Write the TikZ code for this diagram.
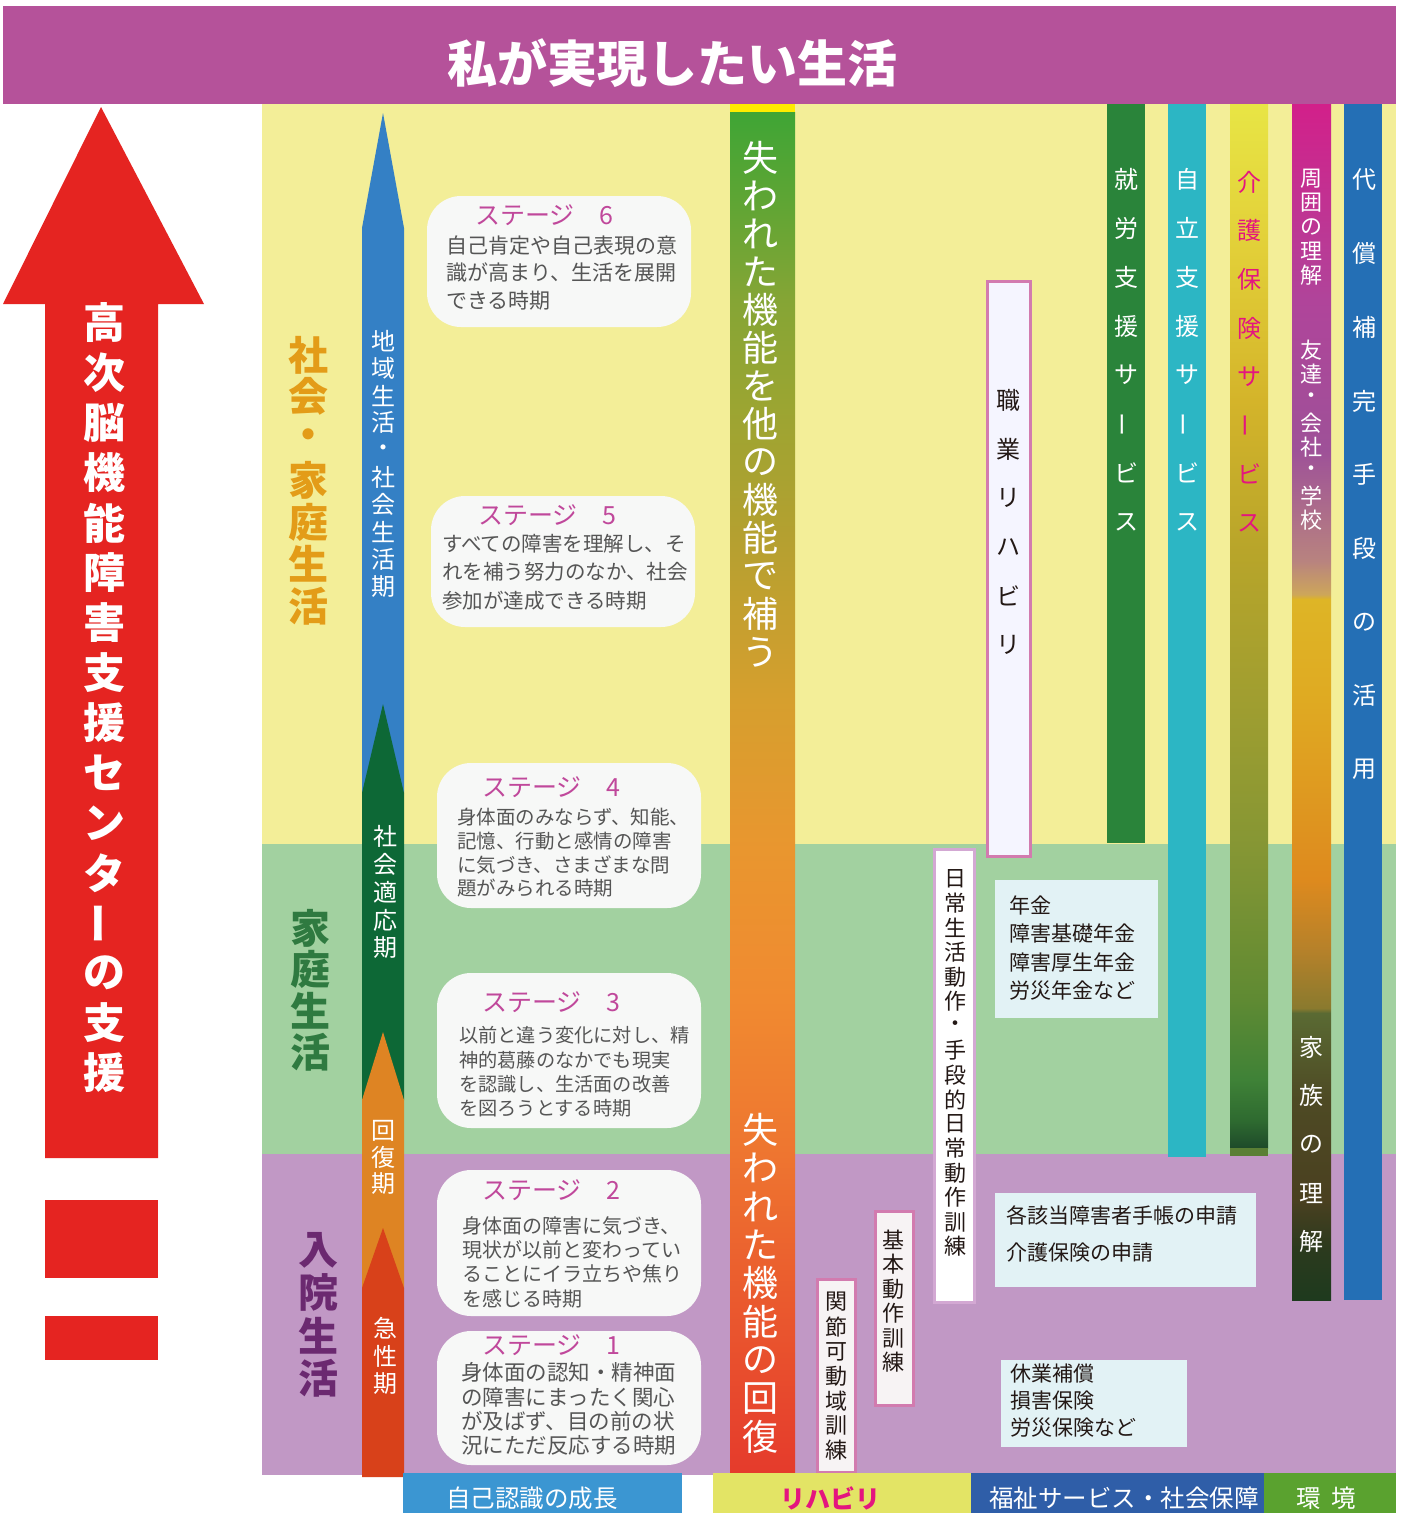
\documentclass[tikz,border=0pt]{standalone}
\usepackage{fontspec}
\usepackage{graphicx}
\setmainfont{Noto Sans CJK JP}

\definecolor{headpurple}{HTML}{B5529A}
\definecolor{bandyellow}{HTML}{F3EE98}
\definecolor{bandgreen}{HTML}{A2D1A0}
\definecolor{bandpurple}{HTML}{C198C5}
\definecolor{supportred}{HTML}{E52421}
\definecolor{shakaiorange}{HTML}{E39C18}
\definecolor{kateigreen}{HTML}{2F7A40}
\definecolor{nyuinpurple}{HTML}{6B2970}
\definecolor{phaseblue}{HTML}{3480C5}
\definecolor{phasegreen}{HTML}{0D6836}
\definecolor{phaseorange}{HTML}{DE8423}
\definecolor{phasered}{HTML}{D8411A}
\definecolor{stagefill}{HTML}{F7F8F7}
\definecolor{stagetitle}{HTML}{C0489B}
\definecolor{stagetext}{HTML}{555555}
\definecolor{inkblack}{HTML}{231815}
\definecolor{boxpink}{HTML}{D27BAF}
\definecolor{boxlilac}{HTML}{D3A8D3}
\definecolor{trainfill}{HTML}{F7F3F4}
\definecolor{infofill}{HTML}{E2F2F5}
\definecolor{shurogreen}{HTML}{2A843A}
\definecolor{jiritsuteal}{HTML}{2CB6C4}
\definecolor{kaigomagenta}{HTML}{E4157F}
\definecolor{kaigostrip}{HTML}{5A7F35}
\definecolor{daishoblue}{HTML}{246FB5}
\definecolor{jikoblue}{HTML}{3B96D2}
\definecolor{rehayellow}{HTML}{E3E465}
\definecolor{fukushiblue}{HTML}{2F5EA8}
\definecolor{kankyogreen}{HTML}{5AA22F}
\definecolor{topyellow}{HTML}{FFEC00}

% stops of the shaded bars, bottom to top
\definecolor{lostA}{HTML}{E53B2C}
\definecolor{lostB}{HTML}{EA5A2E}
\definecolor{lostC}{HTML}{EE7630}
\definecolor{lostD}{HTML}{F08A30}
\definecolor{lostE}{HTML}{E9962F}
\definecolor{lostF}{HTML}{D69F2E}
\definecolor{lostG}{HTML}{B5A030}
\definecolor{lostH}{HTML}{9AA532}
\definecolor{lostI}{HTML}{85A535}
\definecolor{lostJ}{HTML}{5EA534}
\definecolor{lostK}{HTML}{3FA535}

\definecolor{kaigoA}{HTML}{1E4A2A}
\definecolor{kaigoB}{HTML}{2E6A30}
\definecolor{kaigoC}{HTML}{3F8237}
\definecolor{kaigoD}{HTML}{5F8A33}
\definecolor{kaigoE}{HTML}{859634}
\definecolor{kaigoF}{HTML}{A09E30}
\definecolor{kaigoG}{HTML}{B8A52A}
\definecolor{kaigoH}{HTML}{D4B42A}
\definecolor{kaigoI}{HTML}{E2CF38}
\definecolor{kaigoJ}{HTML}{E8E545}

\definecolor{shuiA}{HTML}{1E3A1E}
\definecolor{shuiB}{HTML}{2B3A1E}
\definecolor{shuiC}{HTML}{4A4020}
\definecolor{shuiD}{HTML}{4E4A24}
\definecolor{shuiE}{HTML}{5A6A33}
\definecolor{shuiF}{HTML}{8A7A2E}
\definecolor{shuiG}{HTML}{B5812A}
\definecolor{shuiH}{HTML}{DE8A1E}
\definecolor{shuiI}{HTML}{DFAA22}
\definecolor{shuiJ}{HTML}{DEB526}
\definecolor{shuiK}{HTML}{CDA65A}
\definecolor{shuiL}{HTML}{B8837F}
\definecolor{shuiM}{HTML}{9E5198}
\definecolor{shuiN}{HTML}{B0449A}
\definecolor{shuiO}{HTML}{D2208A}

\pgfdeclareverticalshading{lostbar}{100bp}{color(0bp)=(lostA); color(25bp)=(lostA);
  color(31.4bp)=(lostB); color(36.9bp)=(lostC); color(42.4bp)=(lostD); color(47.9bp)=(lostE);
  color(53.4bp)=(lostF); color(59.3bp)=(lostG); color(64.4bp)=(lostH); color(68.1bp)=(lostI);
  color(71.8bp)=(lostJ); color(75bp)=(lostK); color(100bp)=(lostK)}
\pgfdeclareverticalshading{kaigobar}{100bp}{color(0bp)=(kaigoA); color(25bp)=(kaigoA);
  color(26.3bp)=(kaigoB); color(28.3bp)=(kaigoC); color(32.1bp)=(kaigoD); color(39.3bp)=(kaigoE);
  color(46.5bp)=(kaigoF); color(53.6bp)=(kaigoG); color(60.8bp)=(kaigoH); color(68bp)=(kaigoI);
  color(75bp)=(kaigoJ); color(100bp)=(kaigoJ)}
\pgfdeclareverticalshading{shuibar}{100bp}{color(0bp)=(shuiA); color(25bp)=(shuiA);
  color(27.1bp)=(shuiB); color(29.2bp)=(shuiC); color(33.4bp)=(shuiD); color(37bp)=(shuiE);
  color(37.2bp)=(shuiF); color(39.6bp)=(shuiG); color(42.6bp)=(shuiH); color(50.1bp)=(shuiI);
  color(54.3bp)=(shuiJ); color(54.5bp)=(shuiK); color(55.9bp)=(shuiL); color(60.5bp)=(shuiM);
  color(66.8bp)=(shuiN); color(75bp)=(shuiO); color(100bp)=(shuiO)}

\def\colpitch{49}
\def\widepitch{73.7}
\newcommand\vbar{\rotatebox[origin=c]{90}{ー}}

\begin{document}
\begin{tikzpicture}[x=1pt,y=-1pt]
    \tikzstyle{arrow char}=[inner sep=0pt, text=white, font=\fontsize{42}{42}\selectfont\bfseries]
    \tikzstyle{life char}=[inner sep=0pt, font=\fontsize{40}{40}\selectfont\bfseries]
    \tikzstyle{phase char}=[inner sep=0pt, text=white, font=\fontsize{24}{24}\selectfont]
    \tikzstyle{bar char}=[inner sep=0pt, text=white, font=\fontsize{36}{36}\selectfont]
    \tikzstyle{col char}=[inner sep=0pt, text=white, font=\fontsize{24}{24}\selectfont]
    \tikzstyle{box char}=[inner sep=0pt, text=inkblack, font=\fontsize{22}{22}\selectfont]
    \tikzstyle{stage box}=[fill=stagefill, rounded corners=34pt, inner sep=0pt]
    \tikzstyle{stage title}=[inner sep=0pt, anchor=west, text=stagetitle, font=\fontsize{25}{25}\selectfont]
    \tikzstyle{stage text}=[inner sep=0pt, anchor=west, align=left, text=stagetext, font=\fontsize{20}{24.3}\selectfont]
    \tikzstyle{info box}=[fill=infofill, inner sep=0pt]
    \tikzstyle{info text}=[inner sep=0pt, anchor=west, align=left, text=inkblack]
    \tikzstyle{train box}=[draw=boxpink, line width=3pt, fill=trainfill]
    \tikzstyle{label box}=[inner sep=0pt, minimum height=50]
    \tikzstyle{label text}=[inner sep=0pt, text=white, font=\fontsize{24.5}{24.5}\selectfont]

    \useasboundingbox (0,0) rectangle (1402,1513);
    \fill[white] (0,0) rectangle (1402,1513);

    % Draw the three life bands and the header
    \fill[bandyellow] (262,104) rectangle (1396,844);
    \fill[bandgreen] (262,844) rectangle (1396,1154);
    \fill[bandpurple] (262,1154) rectangle (1396,1475);
    \fill[headpurple] (3,6) rectangle (1396,104);
    \node[text=white, font=\fontsize{50}{50}\selectfont\bfseries] (title) at (672,63) {私が実現したい生活};

    % Draw the red support arrow
    \fill[supportred] (45,1158) -- (45,304) -- (3,304) -- (101,107) -- (204,304)
        -- (158,304) -- (158,1158) -- cycle;
    \fill[supportred] (45,1200) rectangle (158,1278);
    \fill[supportred] (45,1316) rectangle (158,1360);
    \foreach \ch [count=\i] in {高,次,脳,機,能,障,害,支,援,セ,ン,タ,\vbar,の,支,援}
        \node[arrow char] (R-\i) at (104,{323+50*(\i-1)}) {\ch};

    % Annotate the life bands
    \foreach \ch [count=\i] in {社,会,・,家,庭,生,活}
        \node[life char, text=shakaiorange] (L1-\i) at (308,{355+41.8*(\i-1)}) {\ch};
    \foreach \ch [count=\i] in {家,庭,生,活}
        \node[life char, text=kateigreen] (L2-\i) at (310,{928+41.5*(\i-1)}) {\ch};
    \foreach \ch [count=\i] in {入,院,生,活}
        \node[life char, text=nyuinpurple] (L3-\i) at (318,{1250+42.7*(\i-1)}) {\ch};

    % Draw the phase arrows
    \fill[phaseblue] (362,793) -- (362,228) -- (383,113) -- (404,228) -- (404,793) -- cycle;
    \fill[phasegreen] (362,1100) -- (362,793) -- (383,704) -- (404,793) -- (404,1100) -- cycle;
    \fill[phaseorange] (362,1288) -- (362,1100) -- (383,1032) -- (404,1100) -- (404,1288) -- cycle;
    \fill[phasered] (362,1477) -- (362,1288) -- (383,1228) -- (404,1288) -- (404,1477) -- cycle;
    \foreach \ch [count=\i] in {地,域,生,活,・,社,会,生,活,期}
        \node[phase char] (P1-\i) at (383,{341+27.3*(\i-1)}) {\ch};
    \foreach \ch [count=\i] in {社,会,適,応,期}
        \node[phase char] (P2-\i) at (385,{836+28*(\i-1)}) {\ch};
    \foreach \ch [count=\i] in {回,復,期}
        \node[phase char] (P3-\i) at (383,{1131+26.5*(\i-1)}) {\ch};
    \foreach \ch [count=\i] in {急,性,期}
        \node[phase char] (P4-\i) at (385,{1328+28*(\i-1)}) {\ch};

    % Draw the stage boxes
    \foreach \name / \x / \y / \h in {6/559/261.5/131, 5/563/561.5/131, 4/569/835.5/145,
                                     3/569/1050.5/155, 2/569/1243/146, 1/569/1398/134}
        \node[stage box, minimum width=264, minimum height=\h] (S\name) at (\x,\y) {};
    \foreach \name / \x / \y in {6/475/215, 5/478/515, 4/482/787, 3/482/1002, 2/482/1190, 1/482/1345}
        \node[stage title] (T\name) at (\x,\y) {ステージ　\name};
    \node[stage text, font=\fontsize{21}{27.5}\selectfont] (X6) at (446,273)
        {自己肯定や自己表現の意\\識が高まり、生活を展開\\できる時期};
    \node[stage text, font=\fontsize{20.5}{28.5}\selectfont] (X5) at (442,572)
        {すべての障害を理解し、そ\\れを補う努力のなか、社会\\参加が達成できる時期};
    \node[stage text, font=\fontsize{19.5}{23.7}\selectfont] (X4) at (457,853)
        {身体面のみならず、知能、\\記憶、行動と感情の障害\\に気づき、さまざまな問\\題がみられる時期};
    \node[stage text, font=\fontsize{19.2}{24.3}\selectfont] (X3) at (459,1072)
        {以前と違う変化に対し、精\\神的葛藤のなかでも現実\\を認識し、生活面の改善\\を図ろうとする時期};
    \node[stage text] (X2) at (462,1262)
        {身体面の障害に気づき、\\現状が以前と変わってい\\ることにイラ立ちや焦り\\を感じる時期};
    \node[stage text, font=\fontsize{21.5}{24.3}\selectfont] (X1) at (461,1409)
        {身体面の認知・精神面\\の障害にまったく関心\\が及ばず、目の前の状\\況にただ反応する時期};

    % Draw the rehabilitation bar
    \shade[shading=lostbar] (730,112) rectangle (795,1473);
    \fill[topyellow] (730,104) rectangle (795,112);
    \foreach \ch [count=\i] in {失,わ,れ,た,機,能,を,他,の,機,能,で,補,う}
        \node[bar char] (U-\i) at (760,{158+38*(\i-1)}) {\ch};
    \foreach \ch [count=\i] in {失,わ,れ,た,機,能,の,回,復}
        \node[bar char] (V-\i) at (760,{1130+38.3*(\i-1)}) {\ch};

    % Draw the training boxes
    \draw[train box, fill=white!96!blue] (987.5,281) rectangle (1030,856);
    \foreach \ch [count=\i] in {職,業,リ,ハ,ビ,リ}
        \node[box char, font=\fontsize{24}{24}\selectfont] (J-\i) at (1008,{400+\colpitch*(\i-1)}) {\ch};
    \draw[train box, draw=boxlilac, fill=white] (934.5,849.5) rectangle (974.5,1302.5);
    \foreach \ch [count=\i] in {日,常,生,活,動,作,・,手,段,的,日,常,動,作,訓,練}
        \node[box char] (D-\i) at (955,{879+24.5*(\i-1)}) {\ch};
    \draw[train box] (875,1211) rectangle (913,1405);
    \foreach \ch [count=\i] in {基,本,動,作,訓,練}
        \node[box char] (K-\i) at (893,{1240+24.5*(\i-1)}) {\ch};
    \draw[train box] (817,1279) rectangle (855,1472);
    \foreach \ch [count=\i] in {関,節,可,動,域,訓,練}
        \node[box char] (M-\i) at (836,{1302+24.7*(\i-1)}) {\ch};

    % Draw the welfare boxes
    \node[info box, minimum width=163, minimum height=138] (I1) at (1076.5,949) {};
    \node[info text, font=\fontsize{21}{28.5}\selectfont] (I1-t) at (1009,948)
        {年金\\障害基礎年金\\障害厚生年金\\労災年金など};
    \node[info box, minimum width=261, minimum height=94] (I2) at (1125.5,1240) {};
    \node[info text, font=\fontsize{21}{36.5}\selectfont] (I2-t) at (1006,1234)
        {各該当障害者手帳の申請\\介護保険の申請};
    \node[info box, minimum width=186, minimum height=87] (I3) at (1094,1403.5) {};
    \node[info text, font=\fontsize{21}{27}\selectfont] (I3-t) at (1010,1401)
        {休業補償\\損害保険\\労災保険など};

    % Draw the service columns
    \fill[shurogreen] (1107,104) rectangle (1145,843);
    \fill[jiritsuteal] (1168,104) rectangle (1206,1157);
    \shade[shading=kaigobar] (1230,104) rectangle (1268,1148);
    \fill[kaigostrip] (1230,1148) rectangle (1268,1156);
    \shade[shading=shuibar] (1292,104) rectangle (1331,1300);
    \fill[daishoblue] (1344,104) rectangle (1382,1300);
    \foreach \ch [count=\i] in {就,労,支,援,サ,\vbar,ビ,ス}
        \node[col char] (C1-\i) at (1126,{179+\colpitch*(\i-1)}) {\ch};
    \foreach \ch [count=\i] in {自,立,支,援,サ,\vbar,ビ,ス}
        \node[col char] (C2-\i) at (1187,{179+\colpitch*(\i-1)}) {\ch};
    \foreach \ch [count=\i] in {介,護,保,険,サ,\vbar,ビ,ス}
        \node[col char, text=kaigomagenta] (C3-\i) at (1249,{182+48.7*(\i-1)}) {\ch};
    \foreach \ch [count=\i] in {周,囲,の,理,解}
        \node[col char, font=\fontsize{22}{22}\selectfont] (C4-\i) at (1311,{179+24*(\i-1)}) {\ch};
    \foreach \ch [count=\i] in {友,達,・,会,社,・,学,校}
        \node[col char, font=\fontsize{22}{22}\selectfont] (C5-\i) at (1311,{350+24.3*(\i-1)}) {\ch};
    \foreach \ch [count=\i] in {家,族,の,理,解}
        \node[col char] (C6-\i) at (1311,{1047+48.7*(\i-1)}) {\ch};
    \foreach \ch [count=\i] in {代,償,補,完,手,段,の,活,用}
        \node[col char] (C7-\i) at (1364,{180+\widepitch*(\i-1)}) {\ch};

    % Annotate the bottom fields
    \node[label box, fill=jikoblue, minimum width=279] (B1) at (542.5,1498) {};
    \node[label text] (B1-t) at (532,1498) {自己認識の成長};
    \node[label box, fill=rehayellow, minimum width=258] (B2) at (842,1498) {};
    \node[label text, text=kaigomagenta, font=\fontsize{25}{25}\selectfont\bfseries] (B2-t) at (830,1498) {リハビリ};
    \node[label box, fill=fukushiblue, minimum width=293] (B3) at (1117.5,1498) {};
    \node[label text] (B3-t) at (1124,1498) {福祉サービス・社会保障};
    \node[label box, fill=kankyogreen, minimum width=132] (B4) at (1330,1498) {};
    \node[label text] (B4-t) at (1326,1498) {環\hspace{10pt}境};
\end{tikzpicture}
\end{document}
